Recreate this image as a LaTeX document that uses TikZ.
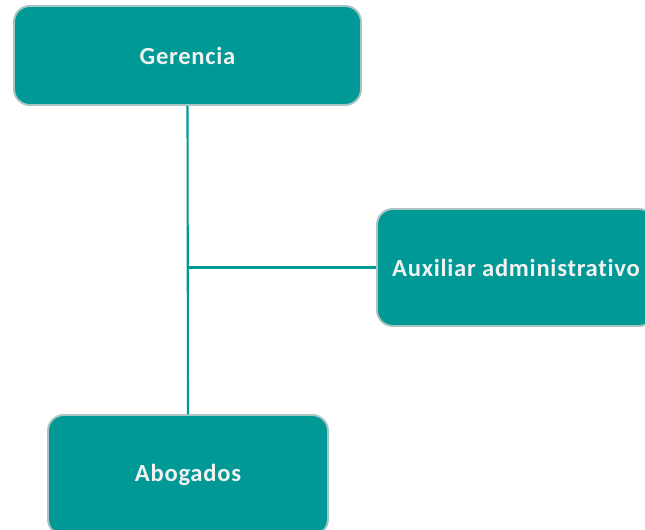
\documentclass[tikz,border=0pt]{standalone}
\usepackage{fontspec}
\setmainfont[LetterSpace=3,Ligatures=NoCommon,RawFeature=-liga]{Carlito}
\usetikzlibrary{positioning}
\definecolor{tealfill}{HTML}{009995}
\definecolor{tealedge}{HTML}{A9C4C3}
\definecolor{boxtext}{HTML}{F2F2F2}
\tikzset{
    link/.style={draw=tealfill,line width=1.2pt}
}

\begin{document}
\begin{tikzpicture}[
                    box/.style={rectangle,rounded corners=9pt,fill=tealfill,draw=tealedge,
                                line width=1.1pt,text=boxtext,font=\bfseries\fontsize{14}{16}\selectfont,
                                inner sep=0pt}]

\useasboundingbox (0,0) rectangle (12.9,-10.6);
\clip (0,0) rectangle (12.9,-10.6);

% Boxes
\node[box,minimum width=6.94cm,minimum height=1.98cm] (gerencia) at (3.75cm,-1.11cm) {Gerencia};
\node[box,minimum width=5.56cm,minimum height=2.34cm] (auxiliar) at (10.32cm,-5.35cm) {Auxiliar administrativo};
\node[box,minimum width=5.60cm,minimum height=2.40cm] (abogados) at (3.76cm,-9.50cm) {Abogados};

% Connectors
\coordinate (junction) at (gerencia.south |- auxiliar.west);
\draw[link] (gerencia.south) -- (abogados.north);
\draw[link] (junction) -- (auxiliar.west);

\end{tikzpicture}
\end{document}
